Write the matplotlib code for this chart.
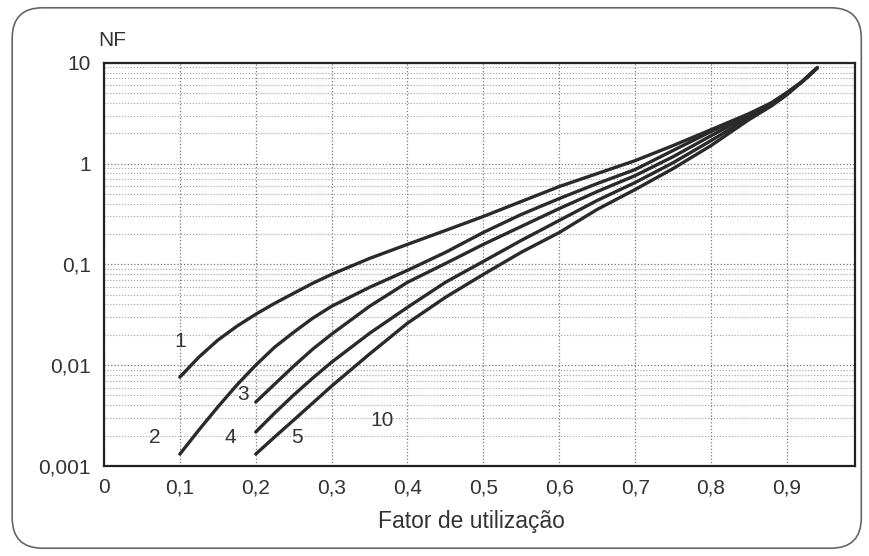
import numpy as np
import matplotlib
matplotlib.use("Agg")
import matplotlib.pyplot as plt
from matplotlib.patches import FancyBboxPatch
from matplotlib.ticker import FixedLocator, LogLocator, NullFormatter

plt.rcParams['font.family'] = ['Liberation Sans', 'DejaVu Sans']

# curves 1 and 2 start at 0.1, curves 3-5 start at 0.2
x_a = [0.1, 0.125, 0.15, 0.175, 0.2, 0.225, 0.25, 0.275, 0.3, 0.35, 0.4, 0.45,
       0.5, 0.55, 0.6, 0.65, 0.7, 0.75, 0.8, 0.85, 0.88, 0.9, 0.92, 0.94]
x_b = [0.2, 0.225, 0.25, 0.275, 0.3, 0.35, 0.4, 0.45,
       0.5, 0.55, 0.6, 0.65, 0.7, 0.75, 0.8, 0.85, 0.88, 0.9, 0.92, 0.94]

nf_1 = [0.0076, 0.0120, 0.0177, 0.0243, 0.0320, 0.0411, 0.0517, 0.0649, 0.0796,
        0.1146, 0.158, 0.217, 0.299, 0.421, 0.592, 0.796, 1.07, 1.51, 2.17,
        3.13, 4.02, 5.05, 6.49, 8.92]
nf_2 = [0.00131, 0.00227, 0.00384, 0.00634, 0.0100, 0.0151, 0.0212, 0.0292,
        0.0384, 0.0592, 0.0873, 0.1315, 0.2075, 0.313, 0.450, 0.634, 0.873, 1.35,
        2.08, 3.06, 4.02, 5.05, 6.49, 8.92]
nf_3 = [0.00430, 0.00649, 0.00977, 0.0144, 0.0203, 0.0384, 0.0664, 0.102,
        0.158, 0.238, 0.358, 0.528, 0.760, 1.17, 1.89, 2.99, 3.93, 5.05, 6.49, 8.92]
nf_4 = [0.00217, 0.00335, 0.00505, 0.00743, 0.0107, 0.0207, 0.0375, 0.0664,
        0.107, 0.173, 0.273, 0.431, 0.649, 1.02, 1.69, 2.85, 3.84, 4.93, 6.49, 8.92]
nf_5 = [0.00131, 0.00194, 0.00285, 0.00420, 0.00620, 0.0129, 0.0261, 0.0471,
        0.0796, 0.132, 0.207, 0.351, 0.553, 0.892, 1.51, 2.73, 3.75, 4.82, 6.49, 8.92]

curve_labels = ['1', '2', '3', '4', '5', '10']
label_x = [0.100, 0.067, 0.183, 0.166, 0.254, 0.367]
label_y = [0.017, 0.0019, 0.0051, 0.0019, 0.0019, 0.0028]

x_ticks = [0, 0.1, 0.2, 0.3, 0.4, 0.5, 0.6, 0.7, 0.8, 0.9]
x_ticklabels = ['0', '0,1', '0,2', '0,3', '0,4', '0,5', '0,6', '0,7', '0,8', '0,9']
y_ticks = [0.001, 0.01, 0.1, 1, 10]
y_ticklabels = ['0,001', '0,01', '0,1', '1', '10']

fig = plt.figure(figsize=(8.7, 5.56), dpi=100)
ax = fig.add_axes([0.1195, 0.162, 0.8635, 0.725])

# rounded frame round the whole figure
frame = FancyBboxPatch((0.014, 0.014), 0.976, 0.972, boxstyle="round,pad=0,rounding_size=0.035",
                       transform=fig.transFigure, facecolor='none', edgecolor='#666666',
                       linewidth=1.2, mutation_aspect=870 / 556)
fig.patches.append(frame)

ax.set_yscale('log')
ax.set_xlim(0, 0.99)
ax.set_ylim(0.001, 10)

ax.xaxis.set_major_locator(FixedLocator(x_ticks))
ax.set_xticklabels(x_ticklabels)
ax.yaxis.set_major_locator(FixedLocator(y_ticks))
ax.set_yticklabels(y_ticklabels)
ax.yaxis.set_minor_locator(LogLocator(base=10, subs=np.arange(2, 10)))
ax.yaxis.set_minor_formatter(NullFormatter())

ax.grid(True, which='major', axis='both', linestyle=':', color='#777777', linewidth=0.9)
ax.grid(True, which='minor', axis='y', linestyle=':', color='#a0a0a0', linewidth=0.8)
ax.tick_params(which='both', length=0, labelsize=15, colors='#333333')
ax.tick_params(axis='x', pad=9)
ax.tick_params(axis='y', pad=9.5)
for s in ax.spines.values():
    s.set_linewidth(1.6)
    s.set_color('#222222')

for xs, ys in [(x_a, nf_1), (x_a, nf_2), (x_b, nf_3), (x_b, nf_4), (x_b, nf_5)]:
    ax.plot(xs, ys, color='#2a2a2a', linewidth=2.4, solid_capstyle='round', solid_joinstyle='round')

for t, lx, ly in zip(curve_labels, label_x, label_y):
    ax.text(lx, ly, t, fontsize=15, color='#333333', ha='center', va='center')

ax.set_xlabel('Fator de utilização', fontsize=16.5, color='#333333', va='center')
ax.xaxis.set_label_coords(0.489, -0.137)
fig.text(112 / 870, 1 - 40 / 556, 'NF', fontsize=15, color='#333333', ha='center', va='center')

fig.savefig('out.png', dpi=100)
